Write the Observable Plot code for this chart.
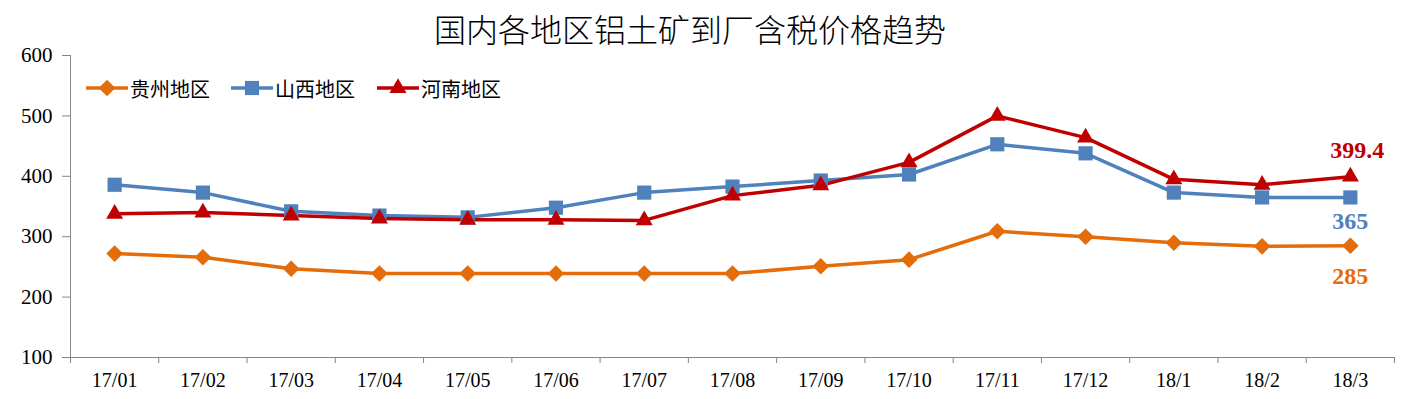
<!DOCTYPE html>
<html><head><meta charset="utf-8">
<script src="https://cdn.jsdelivr.net/npm/d3@7"></script>
<script src="https://cdn.jsdelivr.net/npm/@observablehq/plot@0.6"></script>
<style>
body{margin:0;background:#fff;}
#wrap{position:relative;width:1420px;height:399px;overflow:hidden;background:#fff;}
#title{position:absolute;left:0;top:0;width:1380px;text-align:center;font-family:"Noto Sans CJK SC","Noto Sans",sans-serif;font-size:32px;font-weight:300;line-height:56px;color:#000;}
#chart{position:absolute;left:0;top:50px;}
#legend{position:absolute;top:76px;left:0;height:24px;font-family:"Noto Sans CJK SC",sans-serif;font-size:20px;color:#000;}
.item{position:absolute;top:0;display:flex;align-items:center;height:24px;white-space:nowrap;}
.item svg{margin-right:2px;}
</style>
</head><body>
<div id="wrap">
  <div id="title">国内各地区铝土矿到厂含税价格趋势</div>
  <div id="chart"></div>
  <div id="legend"></div>
</div>
<script>
const months = ["17/01","17/02","17/03","17/04","17/05","17/06","17/07","17/08","17/09","17/10","17/11","17/12","18/1","18/2","18/3"];
const seriesNames = ["贵州地区","山西地区","河南地区"];
const seriesColors = ["#E46C0A","#4F81BD","#C00000"];
const seriesSymbols = ["diamond2","square","triangle"];
const guizhou = [272,266,247,239,239,239,239,239,251,262,309,300,290,284,285];
const shanxi  = [386,373,342,335,332,348,373,383,393,403,453,438,373,365,365];
const henan   = [338,340,335,330,328,328,327,368,385,423,500,464,395,386,399.4];
const yTicks = [100,200,300,400,500,600];
const endLabels = ["285","365","399.4"];

const allValues = [guizhou, shanxi, henan];
const data = [];
allValues.forEach((vals, s) => vals.forEach((v, i) => data.push({s: seriesNames[s], i, v})));
const last = allValues.map((vals, s) => ({s: seriesNames[s], i: vals.length - 1, v: vals[vals.length - 1], label: endLabels[s]}));
const n = months.length;

const symbolSizes = {"diamond2": 7.5, "square": 8, "triangle": 6.3};

const marks = [
  Plot.ruleY([100], {stroke: "#868686", strokeWidth: 1}),
  Plot.ruleX([-0.5], {stroke: "#868686", strokeWidth: 1}),
  Plot.axisY({ticks: yTicks, tickSize: 8, tickPadding: 10, stroke: "#868686", tickFormat: d => String(d), fill: "#000", label: null, fontSize: 21}),
  Plot.axisX({ticks: d3.range(-0.5, n, 1), tickSize: 6, tickFormat: () => "", stroke: "#868686", label: null}),
  Plot.axisX({ticks: d3.range(0, n), tickSize: 0, tickPadding: 15, tickFormat: i => months[i], fill: "#000", label: null}),
  Plot.line(data, {x: "i", y: "v", z: "s", stroke: "s", strokeWidth: 3.5, curve: "linear"})
];
seriesNames.forEach((name, s) => {
  const sym = seriesSymbols[s];
  marks.push(Plot.dot(data.filter(d => d.s === name), {x: "i", y: "v", symbol: () => sym, fill: seriesColors[s], stroke: "none", r: symbolSizes[sym]}));
});
const dyOff = [31, 24, -26];
const dxOff = [0, 0, 7];
last.forEach((d, s) => {
  marks.push(Plot.text([d], {x: "i", y: "v", text: "label", dy: dyOff[s], dx: dxOff[s], fill: seriesColors[s], fontWeight: "bold", fontSize: 24}));
});

const chart = Plot.plot({
  width: 1420, height: 349,
  marginTop: 5, marginBottom: 42, marginLeft: 70, marginRight: 26,
  x: {type: "linear", domain: [-0.5, n - 0.5], axis: null},
  y: {domain: [100, 600], axis: null},
  color: {domain: seriesNames, range: seriesColors},
  symbol: {domain: seriesSymbols, range: seriesSymbols},
  style: {fontFamily: "'Liberation Serif', 'Times New Roman', serif", fontSize: "20px", color: "#000", background: "#fff", overflow: "visible"},
  marks
});
document.getElementById("chart").appendChild(chart);

// legend
const legendX = [86, 231, 377];
const legend = document.getElementById("legend");
seriesNames.forEach((name, s) => {
  const it = document.createElement("div");
  it.className = "item";
  it.style.left = legendX[s] + "px";
  const svg = d3.create("svg").attr("width", 42).attr("height", 24);
  svg.append("line").attr("x1", 0).attr("x2", 42).attr("y1", 12).attr("y2", 12).attr("stroke", seriesColors[s]).attr("stroke-width", 3.5);
  const symMap = {"diamond2": d3.symbolDiamond2, "square": d3.symbolSquare, "triangle": d3.symbolTriangle};
  const r = symbolSizes[seriesSymbols[s]];
  svg.append("path").attr("transform", "translate(21,12)").attr("d", d3.symbol(symMap[seriesSymbols[s]], Math.PI * r * r)()).attr("fill", seriesColors[s]);
  it.appendChild(svg.node());
  const t = document.createElement("span");
  t.textContent = name;
  it.appendChild(t);
  legend.appendChild(it);
});
</script>
</body></html>
